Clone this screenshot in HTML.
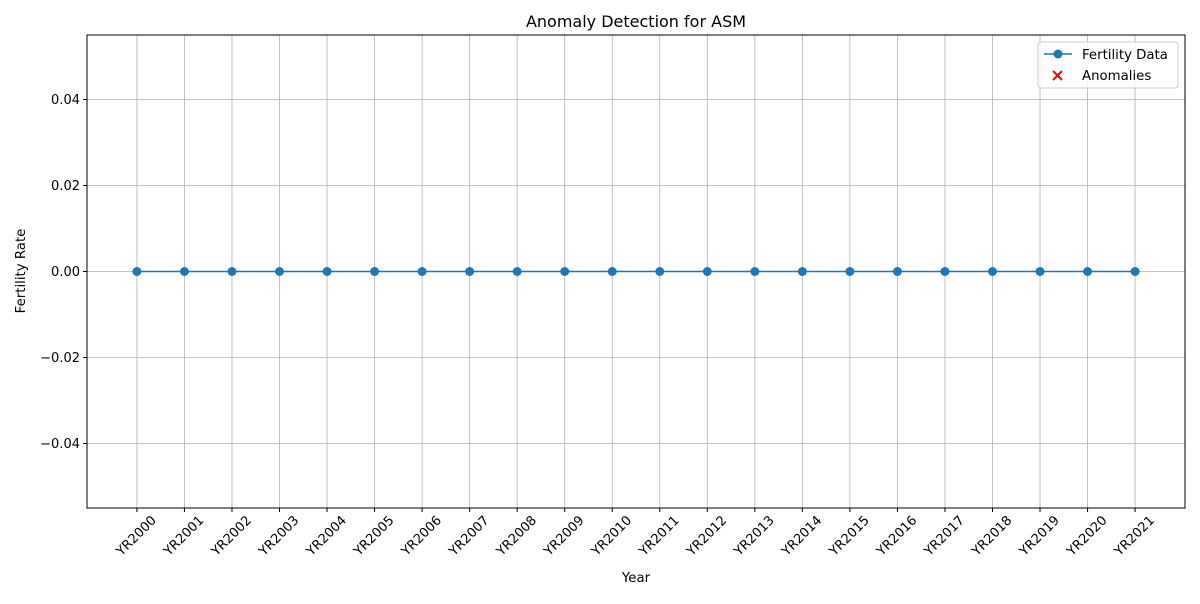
<!DOCTYPE html>
<html><head><meta charset="utf-8"><style>
body{margin:0;background:#fff;font-family:"DejaVu Sans",sans-serif}
svg text{font-family:"DejaVu Sans",sans-serif;fill:#000}
</style></head><body>
<svg id="chart" width="1200" height="600" viewBox="0 0 1200 600">
<rect width="1200" height="600" fill="#fff"/>
<g id="grid"></g>
<g id="xticks"></g>
<g id="yticks"></g>
<g id="series"></g>
<rect x="87" y="35" width="1098" height="473" fill="none" stroke="#000" stroke-width="1"/>
<text x="636" y="27" font-size="16" text-anchor="middle">Anomaly Detection for ASM</text>
<text x="636" y="582" font-size="13.3" text-anchor="middle">Year</text>
<text x="25" y="271" font-size="13.3" text-anchor="middle" transform="rotate(-90 25 271)">Fertility Rate</text>
<g>
<rect x="1038" y="42" width="140" height="46" rx="3" fill="#fff" fill-opacity="0.8" stroke="#ccc"/>
<g>
<line x1="1044" y1="54" x2="1072" y2="54" stroke="#1f77b4" stroke-width="1.5"/>
<circle cx="1058" cy="54" r="4.5" fill="#1f77b4"/>
<text x="1082" y="59" font-size="13.3">Fertility Data</text></g>
<g>
<path d="M1053 71 l9 9 M1062 71 l-9 9" stroke="#ff0000" stroke-width="2"/>
<text x="1082" y="80" font-size="13.3">Anomalies</text></g>
</g>
</svg>
<script>
const categories=["YR2000","YR2001","YR2002","YR2003","YR2004","YR2005","YR2006","YR2007","YR2008","YR2009","YR2010","YR2011","YR2012","YR2013","YR2014","YR2015","YR2016","YR2017","YR2018","YR2019","YR2020","YR2021"];
const values=[0,0,0,0,0,0,0,0,0,0,0,0,0,0,0,0,0,0,0,0,0,0];
const yTicks=[-0.04,-0.02,0,0.02,0.04];
const yTickLabels=["\u22120.04","\u22120.02","0.00","0.02","0.04"];
const NS="http://www.w3.org/2000/svg";
const L=87,R=1185,T=35,B=508;
const n=categories.length,m=(n-1)*0.05;
const x=i=>L+(i+m)/(n-1+2*m)*(R-L);
const y=v=>B-(v+0.055)/0.11*(B-T);
function mk(t,a,p){const e=document.createElementNS(NS,t);for(const k in a)e.setAttribute(k,a[k]);p.appendChild(e);return e;}
const g=document.getElementById('grid'),xt=document.getElementById('xticks'),yt=document.getElementById('yticks'),s=document.getElementById('series');
categories.forEach((c,i)=>{
 const gl=mk('line',{x1:x(i),x2:x(i),y1:T,y2:B,stroke:'#b0b0b0','stroke-width':0.8},g);
 
 
 mk('line',{x1:x(i),x2:x(i),y1:B,y2:B+4,stroke:'#000'},xt);
 const tx=x(i)+20,ty=B+13;
 const t=mk('text',{x:tx,y:ty,'font-size':13,'text-anchor':'end',transform:`rotate(-45 ${tx} ${ty})`},xt);
 t.textContent=c;
 
 
});
yTicks.forEach((v,i)=>{
 const gl=mk('line',{x1:L,x2:R,y1:y(v),y2:y(v),stroke:'#b0b0b0','stroke-width':0.8},g);
 
 
 mk('line',{x1:L-4,x2:L,y1:y(v),y2:y(v),stroke:'#000'},yt);
 const t=mk('text',{x:L-7,y:y(v)+4.5,'font-size':13,'text-anchor':'end'},yt);
 t.textContent=yTickLabels[i];
 
 
});
const pl=mk('polyline',{points:values.map((v,i)=>x(i)+','+y(v)).join(' '),fill:'none',stroke:'#1f77b4','stroke-width':1.5},s);


values.forEach((v,i)=>{
 const c=mk('circle',{cx:x(i),cy:y(v),r:4.5,fill:'#1f77b4'},s);
 
 
});
</script>
</body></html>
